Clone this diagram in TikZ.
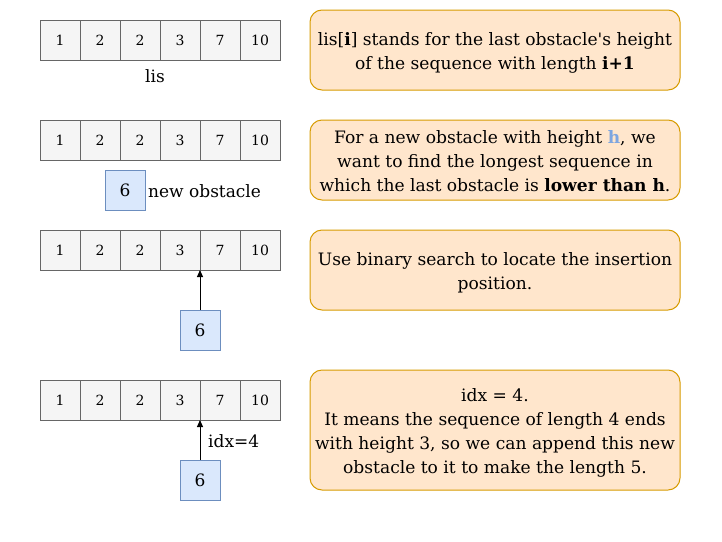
\documentclass[tikz,border=0pt]{standalone}
\usepackage{fontspec}
\setmainfont{DejaVu Serif}
\usetikzlibrary{arrows.meta}
\definecolor{cellfill}{HTML}{F5F5F5}
\definecolor{celldraw}{HTML}{666666}
\definecolor{bluefill}{HTML}{DAE8FC}
\definecolor{bluedraw}{HTML}{6C8EBF}
\definecolor{orfill}{HTML}{FFE6CC}
\definecolor{ordraw}{HTML}{D79B00}
\definecolor{hblue}{HTML}{7EA6E0}
\tikzset{
  cell/.style={draw=celldraw, fill=cellfill, line width=1pt, minimum width=40pt, minimum height=40pt, inner sep=0pt, font=\fontsize{14}{16}\selectfont},
  newbox/.style={draw=bluedraw, fill=bluefill, line width=1pt, minimum width=40pt, minimum height=40pt, inner sep=0pt, font=\fontsize{17}{18}\selectfont},
  note/.style={draw=ordraw, fill=orfill, line width=1pt, rounded corners=12pt, minimum width=370pt, inner sep=0pt},
  notetext/.style={inner sep=0pt, align=center, font=\fontsize{17.1}{24}\selectfont},
  lbl/.style={inner sep=0pt, font=\fontsize{17}{18}\selectfont},
  arr/.style={-{Triangle[length=7pt,width=6pt]}, line width=1pt}
}
\begin{document}
\begin{tikzpicture}[x=1pt,y=-1pt]
\useasboundingbox (0,0) rectangle (722,541);
% arrays
\foreach \r/\y in {1/40,2/140,3/250,4/400}{
  \foreach \v [count=\i] in {1,2,2,3,7,10}{
    \node[cell] (r\r c\i) at ({20+40*\i},\y) {\v};
  }
}
\node[lbl] (lis) at (155,76) {lis};
\node[newbox] (n2) at (125,190) {6};
\node[lbl, anchor=west] (newob) at (148,191) {new obstacle};
\node[newbox] (n3) at (200,330) {6};
\node[newbox] (n4) at (200,480) {6};
\coordinate (t3) at (200,270);
\coordinate (t4) at (200,420);
\draw[arr] (n3.north) -- (t3);
\draw[arr] (n4.north) -- (t4);
\node[lbl, anchor=west] (idx) at (208,441) {idx=4};
% notes
\node[note, minimum height=80pt] (b1) at (495,50) {};
\node[notetext] (b1t) at (495,53) {lis[\textbf{i}] stands for the last obstacle\textquotesingle s height\\of the sequence with length \textbf{i+1}};
\node[note, minimum height=80pt] (b2) at (495,160) {};
\node[notetext] (b2t) at (495,161) {For a new obstacle with height \textcolor{hblue}{\textbf{h}}, we\\want to find the longest sequence in\\which the last obstacle is \textbf{lower than h}.};
\node[note, minimum height=80pt] (b3) at (495,270) {};
\node[notetext] (b3t) at (495,273) {Use binary search to locate the insertion\\position.};
\node[note, minimum height=120pt] (b4) at (495,430) {};
\node[notetext] (b4t) at (495,433) {idx = 4.\\It means the sequence of length 4 ends\\with height 3, so we can append this new\\obstacle to it to make the length 5.};
\end{tikzpicture}
\end{document}
